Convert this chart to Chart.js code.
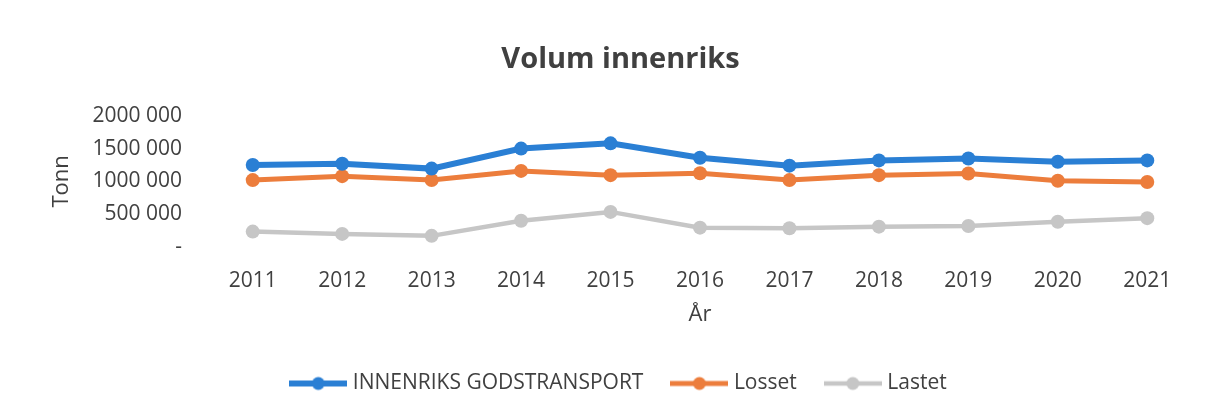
<!DOCTYPE html>
<html>
<head>
<meta charset="utf-8">
<script src="https://cdn.jsdelivr.net/npm/chart.js@4"></script>
<style>
  html, body { margin: 0; padding: 0; background: #fff; }
  #wrap { width: 1212px; height: 409px; }
</style>
</head>
<body>
<div id="wrap"><canvas id="volumChart" width="1212" height="409"></canvas></div>
<script>
// Data lest av figuren (tonn)
const years = ['2011', '2012', '2013', '2014', '2015', '2016', '2017', '2018', '2019', '2020', '2021'];
const innenriks = [1250000, 1270000, 1195000, 1500000, 1580000, 1360000, 1240000, 1320000, 1350000, 1300000, 1320000];
const losset = [1020000, 1080000, 1020000, 1160000, 1095000, 1125000, 1020000, 1095000, 1120000, 1010000, 990000];
const lastet = [235000, 200000, 170000, 400000, 535000, 295000, 285000, 310000, 320000, 385000, 440000];
const yTicks = [0, 500000, 1000000, 1500000, 2000000];

const FONT = '"Open Sans", sans-serif';
const TEXT = '#404040';

// Legendesymbol: linje med punkt
function legendIcon(color, lw) {
    const c = document.createElement('canvas');
    c.width = 58;
    c.height = 16;
    const g = c.getContext('2d');
    g.strokeStyle = color;
    g.lineWidth = lw;
    g.beginPath();
    g.moveTo(0, 8);
    g.lineTo(58, 8);
    g.stroke();
    g.fillStyle = color;
    g.beginPath();
    g.arc(29, 8, 6.5, 0, Math.PI * 2);
    g.fill();
    return c;
}

function fmt(v) {
    if (v === 0) return '-';
    const s = String(Math.round(v));
    return s.slice(0, -3) + ' ' + s.slice(-3);
}

const series = [
    { label: 'INNENRIKS GODSTRANSPORT', data: innenriks, color: '#2a7fd4', width: 6 },
    { label: 'Losset', data: losset, color: '#ec7d3c', width: 5 },
    { label: 'Lastet', data: lastet, color: '#c6c6c6', width: 4.5 }
];

new Chart(document.getElementById('volumChart'), {
    type: 'line',
    data: {
        labels: years,
        datasets: series.map(s => ({
            label: s.label,
            data: s.data,
            borderColor: s.color,
            backgroundColor: s.color,
            borderWidth: s.width,
            pointRadius: 7,
            pointBorderWidth: 0,
            pointStyle: 'circle',
            tension: 0,
            legendIcon: legendIcon(s.color, s.width)
        }))
    },
    options: {
        responsive: false,
        animation: false,
        layout: { padding: { left: 49, right: 20, top: 40, bottom: 5 } },
        plugins: {
            title: {
                display: true,
                text: 'Volum innenriks',
                color: TEXT,
                font: { family: FONT, size: 29, weight: 'bold' },
                padding: { top: 2, bottom: 39 }
            },
            legend: {
                position: 'bottom',
                labels: {
                    color: TEXT,
                    font: { family: FONT, size: 21 },
                    usePointStyle: true,
                    boxWidth: 48,
                    pointStyleWidth: 48,
                    padding: 32,
                    generateLabels(chart) {
                        return chart.data.datasets.map((ds, i) => ({
                            text: ds.label,
                            pointStyle: ds.legendIcon,
                            fillStyle: ds.borderColor,
                            strokeStyle: ds.borderColor,
                            lineWidth: 0,
                            fontColor: TEXT,
                            datasetIndex: i,
                            hidden: false
                        }));
                    }
                }
            },
            tooltip: { enabled: false }
        },
        scales: {
            x: {
                offset: true,
                afterFit(axis) {
                    axis.height = 94;
                },
                grid: { display: false, drawTicks: false },
                border: { display: false },
                ticks: { color: TEXT, font: { family: FONT, size: 21 }, padding: 21, maxRotation: 0 },
                title: {
                    display: true,
                    text: 'År',
                    color: TEXT,
                    font: { family: FONT, size: 22 },
                    padding: { top: 0, bottom: 13 }
                }
            },
            y: {
                min: 0,
                max: 2000000,
                afterBuildTicks(axis) {
                    axis.ticks = yTicks.map(v => ({ value: v }));
                },
                afterFit(axis) {
                    axis.width = 159;
                },
                grid: { display: false, drawTicks: false },
                border: { display: false },
                ticks: {
                    color: TEXT,
                    font: { family: FONT, size: 21 },
                    padding: 26,
                    callback: v => fmt(v)
                },
                title: {
                    display: true,
                    text: 'Tonn',
                    color: TEXT,
                    font: { family: FONT, size: 22 },
                    padding: 0
                }
            }
        }
    }
});
</script>
</body>
</html>
